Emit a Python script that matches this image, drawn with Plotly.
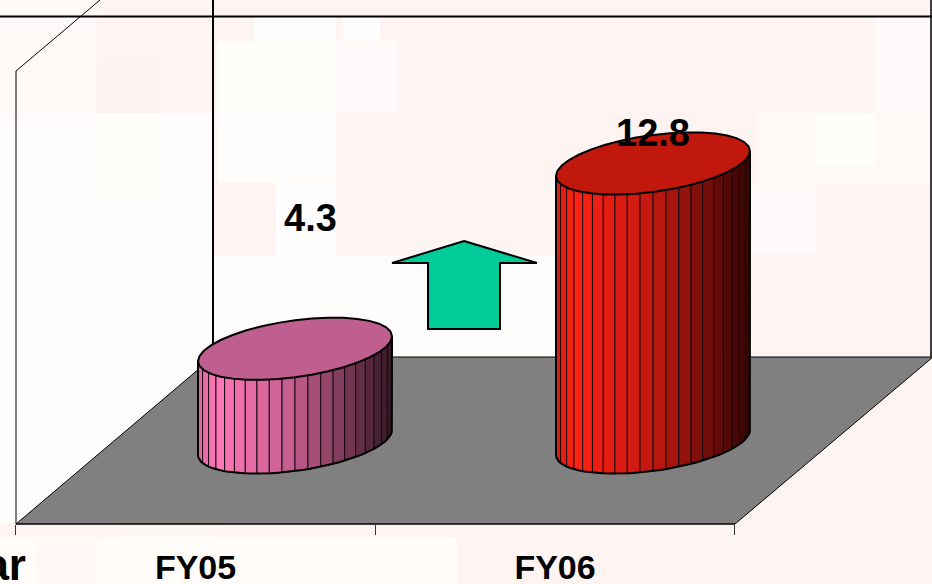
import math
import plotly.graph_objects as go

# Chart data
categories = ["FY05", "FY06"]
values = [4.3, 12.8]
value_labels = ["4.3", "12.8"]
side_colors = [(255, 120, 184), (255, 32, 20)]
cap_colors = ["#BF5F8F", "#C0180C"]

# Page and projection constants (pixels)
W, H = 932, 584
PLOT_BOTTOM = 524
CAT_ZERO_PX = 195.5
CAT_STEP_PX = 359.5
CYL_ZERO_PX = 295.0
CYL_STEP_PX = 358.0
BASE_PX = 442.5
PX_PER_UNIT = 21.8
RADIUS_X = 97.0
RADIUS_Y = 28.5
TILT = 12.5
N_FACETS = 20
LABEL_POS = [(310, 218), (653, 133)]

x_range = [-CAT_ZERO_PX / CAT_STEP_PX, (W - CAT_ZERO_PX) / CAT_STEP_PX]
y_range = [(BASE_PX - PLOT_BOTTOM) / PX_PER_UNIT, BASE_PX / PX_PER_UNIT]


def dx(px_offset):
    return px_offset / CAT_STEP_PX


def dy(px_offset):
    return -px_offset / PX_PER_UNIT


def px_x(px):
    return (px - CAT_ZERO_PX) / CAT_STEP_PX


def px_y(px):
    return (BASE_PX - px) / PX_PER_UNIT


def paper(px, py):
    return px / W, (PLOT_BOTTOM - py) / PLOT_BOTTOM


def ring_offset(angle):
    """Pixel offset of a point on the tilted elliptical section."""
    return (
        RADIUS_X * math.cos(angle),
        RADIUS_Y * math.sin(angle) - TILT * math.cos(angle),
    )


def facet_fraction(k):
    t = k / N_FACETS
    return 0.6 * (1 - math.cos(math.pi * t)) / 2 + 0.4 * t


def front_y(u):
    c = 2 * u - 1
    s = math.sqrt(max(0.0, 1 - c * c))
    return RADIUS_Y * s - TILT * c


def shade(u):
    if u < 0.1:
        return 0.85 + 0.15 * u / 0.1
    if u < 0.5:
        return 1.0 - 0.24 * (u - 0.1) / 0.4
    return 0.76 - 0.56 * (u - 0.5) / 0.5


def tinted(rgb, f):
    return "rgb({},{},{})".format(*[round(c * f) for c in rgb])


fig = go.Figure()

for i, (value, side, cap) in enumerate(zip(values, side_colors, cap_colors)):
    center = px_x(CYL_ZERO_PX + CYL_STEP_PX * i)
    # Vertical facets of the cylinder wall, left to right
    for k in range(N_FACETS):
        u0, u1 = facet_fraction(k), facet_fraction(k + 1)
        us = [u0 + (u1 - u0) * j / 3 for j in range(4)]
        xs = [center + dx((2 * u - 1) * RADIUS_X) for u in us]
        bottom = [dy(front_y(u)) for u in us]
        top = [value + dy(front_y(u)) for u in us]
        fig.add_trace(go.Scatter(
            x=xs + xs[::-1] + [xs[0]],
            y=bottom + top[::-1] + [bottom[0]],
            mode="lines",
            fill="toself",
            fillcolor=tinted(side, shade((u0 + u1) / 2)),
            line=dict(color="#1a0a10", width=1),
            hoverinfo="skip",
            showlegend=False,
        ))
    # Wall silhouette
    arc = [math.pi * j / 40 for j in range(41)]
    sil_x = [center + dx(ring_offset(a)[0]) for a in arc]
    sil_y = [dy(ring_offset(a)[1]) for a in arc]
    fig.add_trace(go.Scatter(
        x=[sil_x[0]] + sil_x + [sil_x[-1]],
        y=[value + sil_y[0]] + sil_y + [value + sil_y[-1]],
        mode="lines",
        line=dict(color="black", width=2),
        hoverinfo="skip",
        showlegend=False,
    ))
    # Top cap
    ring = [2 * math.pi * j / 36 for j in range(37)]
    fig.add_trace(go.Scatter(
        x=[center + dx(ring_offset(a)[0]) for a in ring],
        y=[value + dy(ring_offset(a)[1]) for a in ring],
        mode="lines",
        fill="toself",
        fillcolor=cap,
        line=dict(color="black", width=2),
        hoverinfo="skip",
        showlegend=False,
    ))


def polygon(points, fill, line_color="black", line_width=1, layer="below"):
    coords = [paper(*p) for p in points]
    path = "M " + " L ".join(f"{a:.5f},{b:.5f}" for a, b in coords) + " Z"
    return dict(type="path", xref="paper", yref="paper", path=path,
                fillcolor=fill, line=dict(color=line_color, width=line_width),
                layer=layer)


def segment(p, q, width=1, color="black"):
    a, b = paper(*p)
    c, d = paper(*q)
    return dict(type="line", xref="paper", yref="paper", x0=a, y0=b, x1=c, y1=d,
                line=dict(color=color, width=width), layer="below")


def patch(x0, y0, x1, y1, color):
    a, b = paper(x0, y0)
    c, d = paper(x1, y1)
    return dict(type="rect", xref="paper", yref="paper", x0=a, y0=b, x1=c, y1=d,
                fillcolor=color, line=dict(width=0), layer="below")


shapes = [
    # Lighter and darker blotches of the slide backdrop
    patch(0, 0, 97, 113, "#FFF9F7"),
    patch(0, 113, 213, 524, "#FFFDFB"),
    patch(97, 113, 157, 200, "#FFFEFA"),
    patch(97, 60, 157, 113, "#FDF3F2"),
    patch(254, 18, 336, 41, "#FFFDFB"),
    patch(343, 18, 380, 41, "#FFFEFE"),
    patch(217, 41, 336, 113, "#FFFEFB"),
    patch(336, 41, 397, 113, "#FFF9FA"),
    patch(217, 113, 336, 183, "#FFFCFC"),
    patch(276, 183, 336, 260, "#FFFEFE"),
    patch(213, 255, 556, 357, "#FFFDFB"),
    patch(875, 17, 930, 113, "#FFF9F9"),
    patch(757, 113, 930, 183, "#FFF9F6"),
    patch(815, 113, 875, 165, "#FFFEF8"),
    patch(752, 183, 815, 253, "#FFFAF9"),
    patch(0, 537, 457, 584, "#FFFCFA"),
    patch(36, 540, 97, 584, "#FFF8F6"),
    patch(125, 526, 217, 537, "#FFF6F6"),
    # Floor and chart frame
    polygon([(16, 524), (735, 524), (933, 357), (213, 357)], "#808080", "#808080", 0),
    segment((16, 524), (213, 357)),
    segment((213, 357), (933, 357)),
    segment((735, 524), (933, 357)),
    segment((16, 524), (735, 524), 1.5),
    segment((213, 0), (213, 357), 2),
    segment((0, 16.5), (W, 16.5), 2),
    segment((931, 0), (931, 357), 1.5),
    segment((16, 71), (16, 524)),
    segment((16, 71), (100, 0)),
    # Growth arrow
    polygon([(464, 241), (537, 263), (500, 263), (500, 329), (428, 329),
             (428, 263), (392, 263)], "#00CC99", "black", 2),
]

annotations = [
    dict(x=px_x(px), y=px_y(py), xref="x", yref="y", text=f"<b>{label}</b>",
         showarrow=False, xanchor="center", yanchor="middle",
         font=dict(family="Liberation Sans, Arial, sans-serif", size=38, color="black"))
    for label, (px, py) in zip(value_labels, LABEL_POS)
]
annotations.append(dict(
    x=28 / W, y=(PLOT_BOTTOM - 564) / PLOT_BOTTOM, xref="paper", yref="paper",
    text="<b>Year</b>", showarrow=False, xanchor="right", yanchor="middle",
    font=dict(family="Liberation Sans, Arial, sans-serif", size=44, color="black"),
))

fig.update_layout(
    width=W,
    height=H,
    margin=dict(l=0, r=0, t=0, b=H - PLOT_BOTTOM, pad=0),
    paper_bgcolor="#FEF5F3",
    plot_bgcolor="rgba(0,0,0,0)",
    showlegend=False,
    shapes=shapes,
    annotations=annotations,
    xaxis=dict(
        range=x_range,
        automargin=False,
        tickmode="array",
        tickvals=[0, 1],
        ticktext=[f"<b>{c}</b>" for c in categories],
        tickfont=dict(family="Liberation Sans, Arial, sans-serif", size=34, color="black"),
        ticks="outside",
        ticklen=0,
        ticklabelstandoff=13,
        showline=False,
        showgrid=False,
        zeroline=False,
        minor=dict(tickmode="array", tickvals=[-0.5, 0.5, 1.5], ticks="outside",
                   ticklen=10, tickwidth=1, tickcolor="#333333", showgrid=False),
    ),
    yaxis=dict(range=y_range, visible=False, automargin=False, showgrid=False, zeroline=False),
)

fig.write_html("out.html", config=dict(displayModeBar=False))
